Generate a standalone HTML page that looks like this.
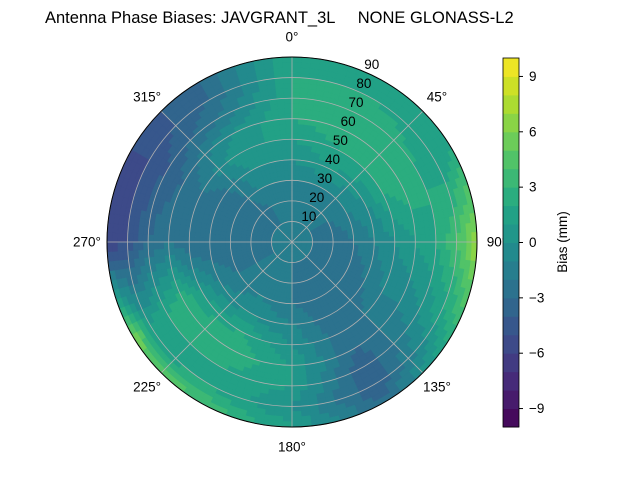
<!DOCTYPE html>
<html><head><meta charset="utf-8"><style>
body{margin:0;background:#fff;}
svg text{font-family:"Liberation Sans","DejaVu Sans",sans-serif;font-size:13.5px;fill:#000;}
</style></head><body>
<svg id="chart" width="640" height="480" viewBox="0 0 640 480" xmlns="http://www.w3.org/2000/svg">
<text x="45" y="23" style="font-size:16.5px;white-space:pre" xml:space="preserve">Antenna Phase Biases: JAVGRANT_3L     NONE GLONASS-L2</text>
<g id="cells"></g>
<g id="grid"></g>
<circle cx="292" cy="242" r="185" fill="none" stroke="#000" stroke-width="1"/>
<g id="labels"></g>
<g id="cbar"></g>
<text x="0" y="0" transform="translate(567,242) rotate(-90)" text-anchor="middle">Bias (mm)</text>
</svg>
<script>
const azimuths=[0,30,60,90,120,150,180,210,240,270,300,330];
const zeniths=[0,10,20,30,40,50,60,70,80,90];
const biasAz0=[-2,-2,-2,-1,0,1,2,2,2,2];
const biasAz30=[-2,-2,-2,-1,1,2,3,3,2,1];
const biasAz60=[-2,-2,-2,-1,0,2,3,2,1,2];
const biasAz90=[-2,-2,-3,-2,-1,0,1,2,4,7];
const biasAz120=[-2,-2,-3,-3,-2,-1,-1,0,1,3];
const biasAz150=[-2,-2,-3,-3,-3,-3,-3,-4,-4,-3];
const biasAz180=[-2,-2,-2,-2,-1,0,1,1,0,1];
const biasAz210=[-2,-2,-2,-1,0,2,3,2,2,4];
const biasAz240=[-2,-2,-2,-2,-1,1,3,2,1,6];
const biasAz270=[-2,-2,-3,-3,-3,-3,-2,-3,-5,-6];
const biasAz300=[-2,-2,-3,-3,-3,-2,-3,-4,-5,-5];
const biasAz330=[-2,-2,-2,-1,0,1,0,-2,-3,-3];
const biasRows=[biasAz0,biasAz30,biasAz60,biasAz90,biasAz120,biasAz150,biasAz180,biasAz210,biasAz240,biasAz270,biasAz300,biasAz330];
const cbTicks=[-9,-6,-3,0,3,6,9];
const ringLabels=[10,20,30,40,50,60,70,80,90];
const angleLabels=["0°","45°","90°","135°","180°","225°","270°","315°"];
const vmin=-10,vmax=10,nLevels=20;
const CX=292,CY=242,R=185;
const NS="http://www.w3.org/2000/svg";
function rScale(z){return z/90*R;}
function pt(az,r){const a=az*Math.PI/180;return [CX+r*Math.sin(a),CY-r*Math.cos(a)];}
const vir=[[68,1,84],[72,35,116],[64,67,135],[52,94,141],[41,120,142],[32,144,140],[34,167,132],[68,190,112],[121,209,81],[189,222,38],[253,231,37]];
function viridis(t){t=Math.max(0,Math.min(1,t));const f=t*10,i=Math.min(9,Math.floor(f)),u=f-i;const a=vir[i],b=vir[i+1];return `rgb(${Math.round(a[0]+(b[0]-a[0])*u)},${Math.round(a[1]+(b[1]-a[1])*u)},${Math.round(a[2]+(b[2]-a[2])*u)})`;}
function bandColor(v){const step=(vmax-vmin)/nLevels;let k=Math.floor((v-vmin)/step);k=Math.max(0,Math.min(nLevels-1,k));return viridis((k+0.5)/nLevels);}
function sample(az,z){
  const n=azimuths.length;let ai=az/30;const i0=Math.floor(ai)%n,i1=(i0+1)%n,u=ai-Math.floor(ai);
  let zi=Math.min(zeniths.length-1.0001,z/10);const j0=Math.floor(zi),v=zi-j0;
  const g=(i,j)=>biasRows[i][j];
  return (1-u)*((1-v)*g(i0,j0)+v*g(i0,j0+1))+u*((1-v)*g(i1,j0)+v*g(i1,j0+1));
}
const cells=document.getElementById('cells');
const dz=2.5,da=3;
for(let z=0;z<90;z+=dz){for(let a=0;a<360;a+=da){
  const val=sample(a+da/2,z+dz/2);
  const r0=rScale(z),r1=rScale(z+dz);
  const p1=pt(a,r0),p2=pt(a+da,r0),p3=pt(a+da,r1),p4=pt(a,r1);
  const p=document.createElementNS(NS,'path');
  p.setAttribute('d',`M${p1}L${p2}L${p3}L${p4}Z`);
  const c=bandColor(val);
  p.setAttribute('fill',c);p.setAttribute('stroke',c);p.setAttribute('stroke-width','0.6');
  
  
  cells.appendChild(p);
}}
const grid=document.getElementById('grid');
ringLabels.forEach(z=>{const c=document.createElementNS(NS,'circle');c.setAttribute('cx',CX);c.setAttribute('cy',CY);c.setAttribute('r',rScale(z));c.setAttribute('fill','none');c.setAttribute('stroke','#b0b0b0');c.setAttribute('stroke-width','0.8');


grid.appendChild(c);});
for(let a=0;a<360;a+=45){const [x,y]=pt(a,R);const l=document.createElementNS(NS,'line');l.setAttribute('x1',CX);l.setAttribute('y1',CY);l.setAttribute('x2',x);l.setAttribute('y2',y);l.setAttribute('stroke','#b0b0b0');l.setAttribute('stroke-width','0.8');


grid.appendChild(l);}
const labels=document.getElementById('labels');
angleLabels.forEach((s,i)=>{const [x,y]=pt(i*45,R+20);const t=document.createElementNS(NS,'text');t.setAttribute('x',x);t.setAttribute('y',y+4.5);t.setAttribute('text-anchor','middle');t.textContent=s;


labels.appendChild(t);});
ringLabels.forEach(z=>{const [x,y]=pt(22.5,rScale(z));const t=document.createElementNS(NS,'text');t.setAttribute('x',x+9);t.setAttribute('y',y-2);t.setAttribute('text-anchor','middle');t.textContent=z;


labels.appendChild(t);});
const cb=document.getElementById('cbar');
const cbX=503,cbW=16,cbTop=58,cbBot=427;
function cbY(v){return cbBot-(v-vmin)/(vmax-vmin)*(cbBot-cbTop);}
for(let k=0;k<nLevels;k++){const v0=vmin+k*(vmax-vmin)/nLevels,v1=v0+(vmax-vmin)/nLevels;const r=document.createElementNS(NS,'rect');r.setAttribute('x',cbX);r.setAttribute('y',cbY(v1));r.setAttribute('width',cbW);r.setAttribute('height',cbY(v0)-cbY(v1)+0.5);r.setAttribute('fill',viridis((k+0.5)/nLevels));


cb.appendChild(r);}
const fr=document.createElementNS(NS,'rect');fr.setAttribute('x',cbX);fr.setAttribute('y',cbTop);fr.setAttribute('width',cbW);fr.setAttribute('height',cbBot-cbTop);fr.setAttribute('fill','none');fr.setAttribute('stroke','#000');fr.setAttribute('stroke-width','0.8');


cb.appendChild(fr);
cbTicks.forEach(v=>{const y=cbY(v);const l=document.createElementNS(NS,'line');l.setAttribute('x1',cbX+cbW);l.setAttribute('x2',cbX+cbW+4);l.setAttribute('y1',y);l.setAttribute('y2',y);l.setAttribute('stroke','#000');


cb.appendChild(l);
const t=document.createElementNS(NS,'text');t.setAttribute('x',cbX+cbW+10);t.setAttribute('y',y+4.5);t.textContent=v<0?'\u2212'+(-v):String(v);


cb.appendChild(t);});
</script>
</body></html>
